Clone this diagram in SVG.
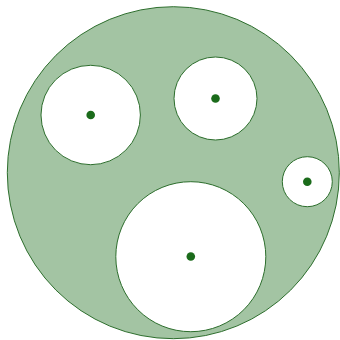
<svg xmlns="http://www.w3.org/2000/svg" width="340" height="340" viewBox="0 0 340 340">
<style>
.outer{fill:#a3c4a3;stroke:#2d6e2d;stroke-width:1}
.inner{fill:#ffffff;stroke:#2d6e2d;stroke-width:1}
.dot{fill:#1b6b1b}
</style>
<rect width="340" height="340" fill="#ffffff"/>
<g id="outer"><circle class="outer" cx="173.3" cy="172.7" r="166"/></g>
<g id="c1"><circle class="inner" cx="90.7" cy="115" r="49.7"/><circle class="dot" cx="90.7" cy="115" r="4.3"/></g>
<g id="c2"><circle class="inner" cx="215.5" cy="98.5" r="41.5"/><circle class="dot" cx="215.5" cy="98.5" r="4.3"/></g>
<g id="c3"><circle class="inner" cx="307.3" cy="181.7" r="25"/><circle class="dot" cx="307.3" cy="181.7" r="4.3"/></g>
<g id="c4"><circle class="inner" cx="190.8" cy="256.7" r="75"/><circle class="dot" cx="190.8" cy="256.5" r="4.3"/></g>
<g id="connectors"/>
</svg>
